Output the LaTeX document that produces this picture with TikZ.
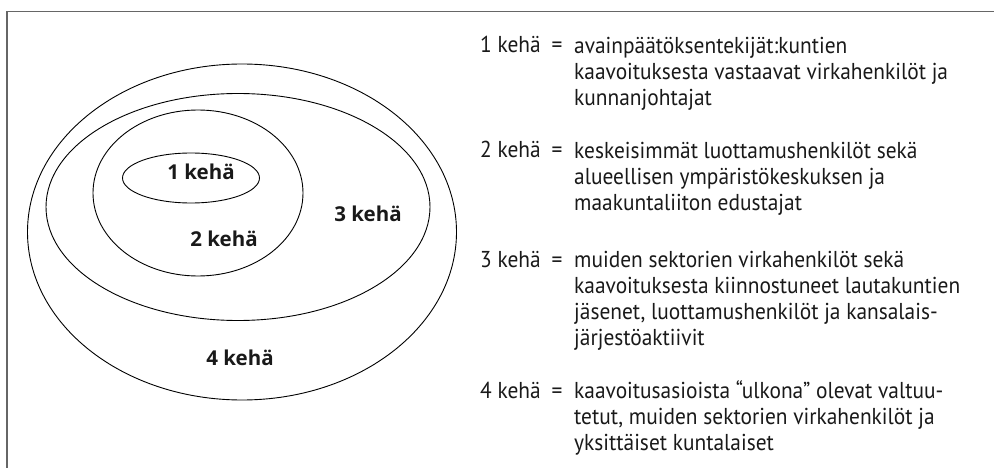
\documentclass[tikz,border=0pt]{standalone}
\usepackage{fontspec}
\setmainfont{PT Sans}[FakeStretch=0.93]
\newfontfamily\ringfont{Open Sans}
\usepackage{tikz}

\begin{document}
\begin{tikzpicture}[x=1pt,y=-1pt]
\tikzstyle{frame}=[draw=black!60,line width=1.4pt]
\tikzstyle{ring}=[draw=black,line width=0.9pt]
\tikzstyle{ringlabel}=[anchor=base,inner sep=0,font=\ringfont\fontsize{20.5}{24}\selectfont\bfseries,text=black!90]
\tikzstyle{keylabel}=[anchor=base west,inner sep=0,font=\fontsize{23}{26}\selectfont,text=black!90]
\tikzstyle{equals}=[anchor=base,inner sep=0,font=\fontsize{23}{26}\selectfont,text=black!90]
\tikzstyle{keytext}=[anchor=north west,inner sep=0,align=left,font=\fontsize{23}{26}\selectfont,text=black!90]
\useasboundingbox (0,0) rectangle (994,468);
\coordinate (fl) at (7,468);
\coordinate (ftl) at (7,11.5);
\coordinate (ftr) at (994,11.5);
\draw[frame] (fl) -- (ftl) -- (ftr);
\draw[ring] (242,232) ellipse (214.5pt and 168pt);
\draw[ring] (238,207) ellipse (192pt and 113.5pt);
\draw[ring] (198,193) ellipse (105pt and 83pt);
\draw[ring] (191,178) ellipse (68.5pt and 25pt);
\node[ringlabel] (r1) at (201,180) {1 kehä};
\node[ringlabel] (r2) at (224,246) {2 kehä};
\node[ringlabel] (r3) at (368,221.5) {3 kehä};
\node[ringlabel] (r4) at (240,365.5) {4 kehä};
\node[keylabel] (k1) at (480,53) {1 kehä};
\node[keylabel] (k2) at (480,158) {2 kehä};
\node[keylabel] (k3) at (480,267) {3 kehä};
\node[keylabel] (k4) at (480,398) {4 kehä};
\node[equals] (e1) at (557,53) {=};
\node[equals] (e2) at (557,158) {=};
\node[equals] (e3) at (557,267) {=};
\node[equals] (e4) at (557,398) {=};
\node[keytext] (t1) at (574,34.8) {\strut avainpäätöksentekijät:kuntien\\kaavoituksesta vastaavat virkahenkilöt ja\\kunnanjohtajat};
\node[keytext] (t2) at (574,139.8) {\strut keskeisimmät luottamushenkilöt sekä\\alueellisen ympäristökeskuksen ja\\maakuntaliiton edustajat};
\node[keytext] (t3) at (574,248.8) {\strut muiden sektorien virkahenkilöt sekä\\kaavoituksesta kiinnostuneet lautakuntien\\jäsenet, luottamushenkilöt ja kansalais-\\järjestöaktiivit};
\node[keytext] (t4) at (574,379.8) {\strut kaavoitusasioista “ulkona” olevat valtuu-\\tetut, muiden sektorien virkahenkilöt ja\\yksittäiset kuntalaiset};
\end{tikzpicture}
\end{document}
